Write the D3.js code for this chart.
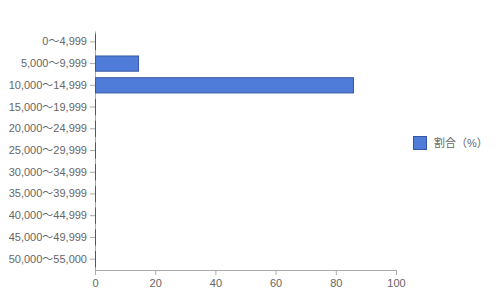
<!DOCTYPE html>
<html>
<head>
<meta charset="utf-8">
<script src="https://cdn.jsdelivr.net/npm/d3@7"></script>
<style>
  body { margin: 0; background: #fff; }
  svg text { font-family: "Liberation Sans", Arial, "Noto Sans CJK JP", sans-serif; font-size: 11px; fill: #666; }
</style>
</head>
<body>
<div id="chart"></div>
<script>
const categories = [
  "0〜4,999", "5,000〜9,999", "10,000〜14,999", "15,000〜19,999",
  "20,000〜24,999", "25,000〜29,999", "30,000〜34,999", "35,000〜39,999",
  "40,000〜44,999", "45,000〜49,999", "50,000〜55,000"
];
const values = [0, 14.3, 85.7, 0, 0, 0, 0, 0, 0, 0, 0];
const seriesName = "割合（%）";
const xTicks = [0, 20, 40, 60, 80, 100];

const width = 500, height = 300;
const margin = { top: 31, right: 104, bottom: 30, left: 95 };

const svg = d3.select("#chart").append("svg")
  .attr("width", width)
  .attr("height", height);

const x = d3.scaleLinear().domain([0, 100]).range([margin.left, width - margin.right]);
const y = d3.scaleBand().domain(categories)
  .range([margin.top, height - margin.bottom])
  .paddingInner(0.3).paddingOuter(0.15);

// x axis
const xAxis = svg.append("g")
  .attr("transform", `translate(0,${height - margin.bottom})`)
  .call(d3.axisBottom(x).tickValues(xTicks).tickSize(5).tickSizeOuter(0).tickPadding(4));
xAxis.select(".domain").attr("stroke", "#aaa");
xAxis.selectAll(".tick line").attr("stroke", "#aaa");

// y axis
const yAxis = svg.append("g")
  .attr("transform", `translate(${margin.left},0)`)
  .call(d3.axisLeft(y).tickSize(5).tickSizeOuter(0).tickPadding(3));
yAxis.select(".domain").attr("stroke", "#aaa");
yAxis.selectAll(".tick line").attr("stroke", "#aaa");

svg.selectAll("text").attr("font-size", null).attr("font-family", null).attr("fill", null);

// bars (zero values still show their outline on the axis)
svg.append("g")
  .selectAll("rect")
  .data(categories)
  .enter()
  .append("rect")
  .attr("x", x(0) + 0.5)
  .attr("y", (d) => y(d))
  .attr("width", (d, i) => Math.max(0.01, x(values[i]) - x(0)))
  .attr("height", y.bandwidth())
  .attr("fill", "#4f7bd9")
  .attr("stroke", "#3557a6")
  .attr("stroke-width", 1);

// legend
const legend = svg.append("g").attr("transform", "translate(413,136)");
legend.append("rect")
  .attr("x", 0.5).attr("y", 0.5)
  .attr("width", 13).attr("height", 13)
  .attr("fill", "#4f7bd9")
  .attr("stroke", "#3557a6");
legend.append("text")
  .attr("x", 21).attr("y", 7)
  .attr("dy", "0.35em")
  .text(seriesName);
</script>
</body>
</html>
